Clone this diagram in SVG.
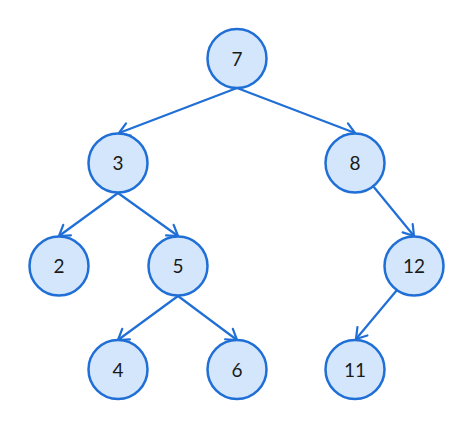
<svg xmlns="http://www.w3.org/2000/svg" width="474" height="429" viewBox="0 0 474 429">
<defs>
<marker id="arr" viewBox="-12 -8 14 16" markerWidth="14" markerHeight="16" refX="0" refY="0" orient="auto" markerUnits="userSpaceOnUse">
<path d="M-10,-6.5 L0,0 L-10,6.5" fill="none" stroke="#1f6fd6" stroke-width="2.2" stroke-linecap="round" stroke-linejoin="round"/>
</marker>
</defs>
<style>
.n circle{fill:#d4e6fc;stroke:#1f6fd6;stroke-width:2.5}
.n text{font-family:"Lato","Open Sans",sans-serif;font-size:19px;fill:#1a1a1a;text-anchor:middle;dominant-baseline:central}
.e line{stroke:#1f6fd6;stroke-width:2.2;fill:none;marker-end:url(#arr)}
</style>
<rect width="474" height="429" fill="#ffffff"/>
<g id="connectors" class="e">
<line x1="237" y1="88" x2="119" y2="133"/>
<line x1="237" y1="88" x2="355" y2="133"/>
<line x1="118" y1="193" x2="59" y2="236"/>
<line x1="118" y1="193" x2="178" y2="236"/>
<line x1="178" y1="296" x2="118" y2="340"/>
<line x1="178" y1="296" x2="237" y2="340"/>
<line x1="373" y1="186" x2="414" y2="236"/>
<line x1="397" y1="290" x2="356" y2="339"/>
</g>
<g id="node7" class="n"><circle cx="237" cy="58.5" r="29.5"/><text x="237" y="58">7</text></g>
<g id="node3" class="n"><circle cx="118" cy="163" r="29.5"/><text x="118" y="162.5">3</text></g>
<g id="node8" class="n"><circle cx="355" cy="163" r="29.5"/><text x="355" y="162.5">8</text></g>
<g id="node2" class="n"><circle cx="59" cy="266" r="29.5"/><text x="59" y="265.5">2</text></g>
<g id="node5" class="n"><circle cx="178" cy="266" r="29.5"/><text x="178" y="265.5">5</text></g>
<g id="node12" class="n"><circle cx="414" cy="266" r="29.5"/><text x="414" y="265.5">12</text></g>
<g id="node4" class="n"><circle cx="118" cy="369.5" r="29.5"/><text x="118" y="369">4</text></g>
<g id="node6" class="n"><circle cx="237" cy="369.5" r="29.5"/><text x="237" y="369">6</text></g>
<g id="node11" class="n"><circle cx="355" cy="369.5" r="29.5"/><text x="355" y="369">11</text></g>
</svg>
